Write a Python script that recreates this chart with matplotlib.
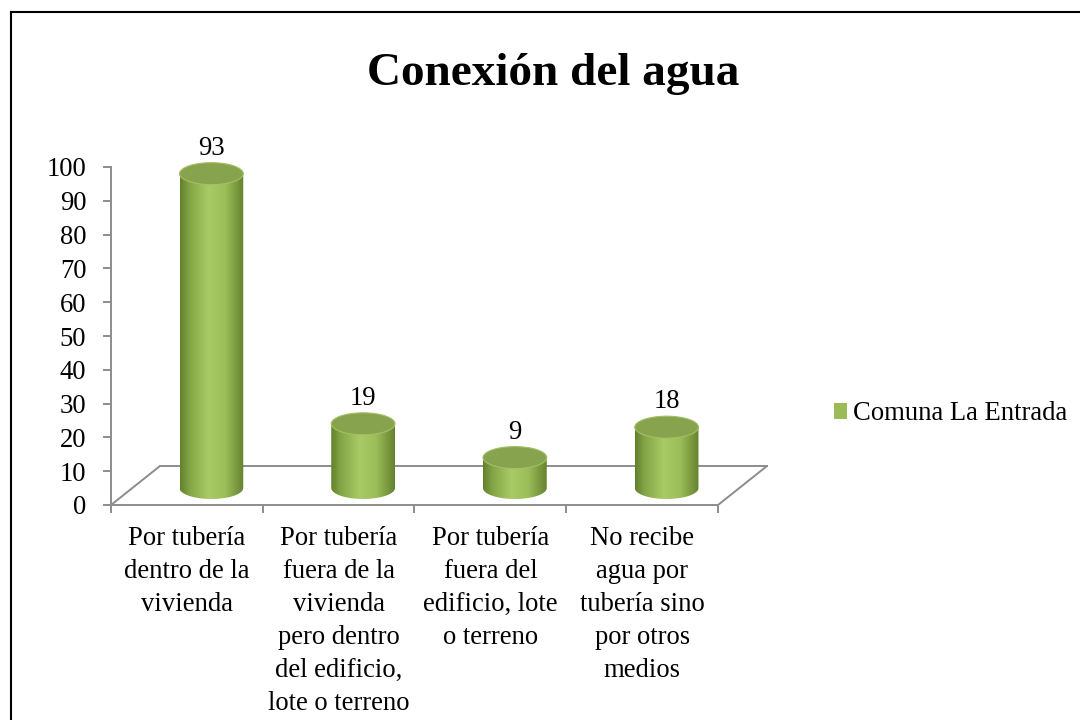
import numpy as np
import matplotlib.pyplot as plt
from matplotlib import transforms
from matplotlib.patches import Ellipse, PathPatch, Patch, ConnectionPatch
from matplotlib.lines import Line2D
from matplotlib.path import Path
from matplotlib.colors import LinearSegmentedColormap

plt.rcParams['font.family'] = ['Liberation Serif', 'DejaVu Serif']

# Datos
categorias = ['Por tubería\ndentro de la\nvivienda',
              'Por tubería\nfuera de la\nvivienda\npero dentro\ndel edificio,\nlote o terreno',
              'Por tubería\nfuera del\nedificio, lote\no terreno',
              'No recibe\nagua por\ntubería sino\npor otros\nmedios']
valores = [93, 19, 9, 18]
serie = 'Comuna La Entrada'
yticks = list(range(0, 101, 10))

gris = '#8c8c8c'
verde = '#9bbb59'
fs = 19.2

fig = plt.figure(figsize=(10.8, 7.2), dpi=100)
ax = fig.add_axes([111/1080, 215/720, 607/1080, 338/720])

# profundidad del "piso" 3D (pulgadas)
fondo = ax.transData + transforms.ScaledTranslation(0.49, 0.39, fig.dpi_scale_trans)
medio = ax.transData + transforms.ScaledTranslation(0.245, 0.17, fig.dpi_scale_trans)

# Piso
ax.plot([-0.5, 3.5], [0, 0], transform=fondo, color=gris, lw=1.4, clip_on=False)
for xe in (-0.5, 3.5):
    con = ConnectionPatch((xe, 0), (xe, 0), coordsA=ax.transData, coordsB=fondo,
                          color=gris, lw=1.4)
    ax.add_artist(con)

# Cilindros
cmap = LinearSegmentedColormap.from_list('cil', [(0, '#62802c'), (0.15, '#84a545'),
                                                 (0.45, '#a9cb67'), (0.7, '#9dbf5a'),
                                                 (1, '#65822f')])
grad = np.linspace(0, 1, 256).reshape(1, -1)
w = 0.42
eh = 6.5
for i, v in enumerate(valores):
    x0, x1 = i - w/2, i + w/2
    t = np.linspace(0, np.pi, 40)
    arco = list(zip(i + (w/2)*np.cos(t), -(eh/2)*np.sin(t)))
    verts = [(x0, v), (x1, v)] + arco + [(x0, v)]
    clip = PathPatch(Path(verts, closed=True), transform=medio,
                     facecolor='none', edgecolor='none')
    ax.add_patch(clip)
    im = ax.imshow(grad, cmap=cmap, aspect='auto', extent=(x0, x1, -eh/2, v),
                   transform=medio, zorder=3)
    im.set_clip_path(clip)
    tapa = Ellipse((i, v), w, eh, transform=medio, facecolor='#87a34d',
                   edgecolor='#a3c065', lw=0.8, clip_on=False, zorder=4)
    ax.add_patch(tapa)
    ax.text(i, v + eh/2 + 0.6, str(v), transform=medio, ha='center', va='bottom',
            fontsize=fs, zorder=5)

ax.set_xlim(-0.5, 3.5)
ax.set_ylim(0, 100)

# Ejes
for s in ('top', 'right'):
    ax.spines[s].set_visible(False)
for s in ('left', 'bottom'):
    ax.spines[s].set_color(gris)
    ax.spines[s].set_linewidth(1.4)
ax.set_yticks(yticks)
ax.tick_params(axis='y', length=5.8, width=1.4, color=gris, labelsize=fs, pad=12)
ax.set_xticks(range(len(categorias)))
ax.set_xticklabels(categorias, fontsize=fs, linespacing=1.42, va='top')
ax.set_xticks(np.arange(-0.5, 4, 1), minor=True)
ax.tick_params(axis='x', which='major', length=0, pad=15)
ax.tick_params(axis='x', which='minor', length=5.8, width=1.4, color=gris)
ax.patch.set_visible(False)

# Leyenda
fig.legend(handles=[Patch(facecolor=verde, label=serie)], loc='center left',
           bbox_to_anchor=(834/1080, 1 - 414/720), frameon=False, fontsize=fs,
           handlelength=0.5, handleheight=0.5, handletextpad=0.2,
           borderaxespad=0, borderpad=0)

# Titulo
fig.text(553/1080, 1 - 74/720, 'Conexión del agua', fontsize=34,
         fontweight='bold', ha='center', va='center')

# Marco
fig.add_artist(Line2D([11/1080, 11/1080], [0, 1 - 12/720], transform=fig.transFigure,
                      color='black', lw=1.5))
fig.add_artist(Line2D([11/1080, 1], [1 - 12/720, 1 - 12/720], transform=fig.transFigure,
                      color='black', lw=1.5))

fig.savefig('out.png', dpi=100)
